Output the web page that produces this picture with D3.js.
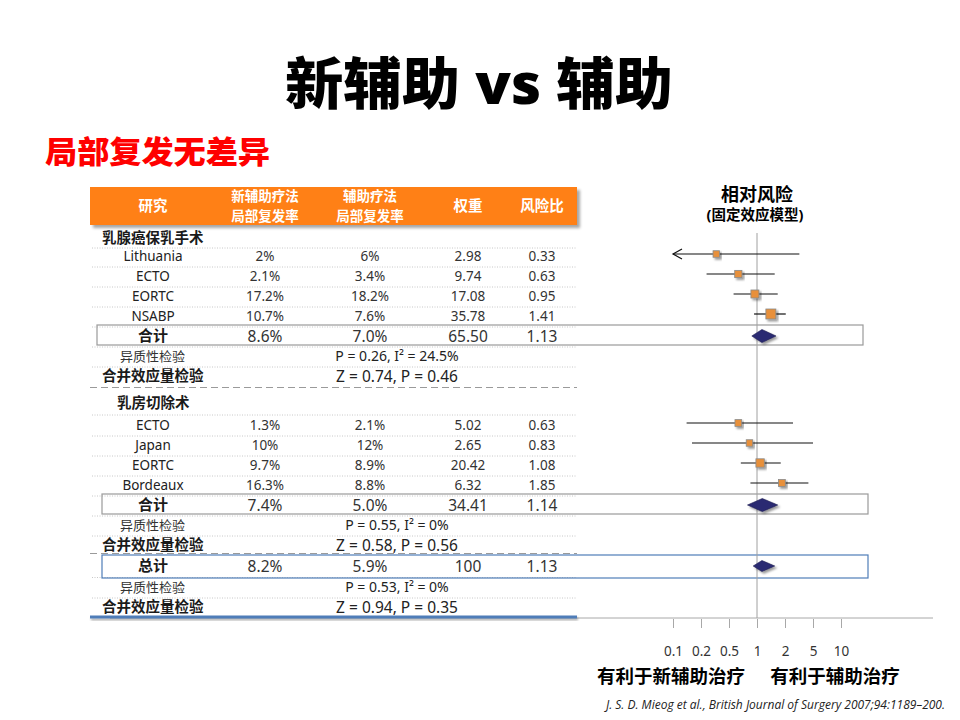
<!DOCTYPE html>
<html>
<head>
<meta charset="utf-8">
<script src="https://cdn.jsdelivr.net/npm/d3@7"></script>
<style>
  body { margin: 0; background: #fff; }
  svg { display: block; font-family: 'Noto Sans', 'Noto Sans CJK SC', sans-serif; }
</style>
</head>
<body>
<div id="chart"></div>
<script>
// ---- data ----
var subgroupNames = ['乳腺癌保乳手术', '乳房切除术']
var headerLines = [['研究'], ['新辅助疗法', '局部复发率'], ['辅助疗法', '局部复发率'], ['权重'], ['风险比']]

var studyGroup = [0, 0, 0, 0, 1, 1, 1, 1]
var studyNames = ['Lithuania', 'ECTO', 'EORTC', 'NSABP', 'ECTO', 'Japan', 'EORTC', 'Bordeaux']
var studyNeo = ['2%', '2.1%', '17.2%', '10.7%', '1.3%', '10%', '9.7%', '16.3%']
var studyAdj = ['6%', '3.4%', '18.2%', '7.6%', '2.1%', '12%', '8.9%', '8.8%']
var studyWeight = [2.98, 9.74, 17.08, 35.78, 5.02, 2.65, 20.42, 6.32]
var studyRR = [0.33, 0.63, 0.95, 1.41, 0.63, 0.83, 1.08, 1.85]
var studyLo = [0.05, 0.24, 0.56, 0.93, 0.14, 0.16, 0.67, 0.85]
var studyHi = [3.2, 1.55, 1.67, 2.05, 2.6, 5.0, 1.8, 4.3]

var summaryLabels = ['合计', '合计', '总计']
var summaryNeo = ['8.6%', '7.4%', '8.2%']
var summaryAdj = ['7.0%', '5.0%', '5.9%']
var summaryWeight = [65.50, 34.41, 100]
var summaryRR = [1.13, 1.14, 1.13]
var summaryLo = [0.88, 0.79, 0.91]
var summaryHi = [1.60, 1.67, 1.55]
var heterogeneity = ['P = 0.26, I² = 24.5%', 'P = 0.55, I² = 0%', 'P = 0.53, I² = 0%']
var overallEffect = ['Z = 0.74, P = 0.46', 'Z = 0.58, P = 0.56', 'Z = 0.94, P = 0.35']

var xTicks = [0.1, 0.2, 0.5, 1, 2, 5, 10]

// ---- layout ----
var W = 960
var H = 720
var colX = [153, 265, 370, 468, 542]
var tableLeft = 90
var tableRight = 577

var svg = d3.select('#chart').append('svg')
  .attr('width', W)
  .attr('height', H)

var defs = svg.append('defs')
function shadow (id, dx, dy, sd, op) {
  defs.append('filter').attr('id', id)
    .attr('x', '-30%').attr('y', '-60%').attr('width', '160%').attr('height', '220%')
    .append('feDropShadow')
    .attr('dx', dx).attr('dy', dy).attr('stdDeviation', sd)
    .attr('flood-color', '#000').attr('flood-opacity', op)
}
shadow('shHead', 3, 3, 1.5, 0.35)
shadow('shMark', 2, 2, 1.2, 0.4)
shadow('shLine', 1, 2, 1, 0.3)

// row slots -> y (text centre)
var y = d3.scaleLinear().domain([0, 1]).range([256, 276])

// relative risk scale: tick values equally spaced, log inside each segment
var xLog = d3.scaleLinear()
  .domain(xTicks.map(Math.log10))
  .range(xTicks.map(function (d, i) { return 673 + i * 28 }))
  .clamp(true)
function x (v) { return xLog(Math.log10(v)) }

// build the row list from the data
var rows = []
var studySlots = [0, 1, 2, 3, 8.45, 9.45, 10.45, 11.45]
var summarySlots = [4, 12.45, 15.5]
var groupSlots = [-0.9, 7.35]
subgroupNames.forEach(function (g, gi) {
  rows.push({type: 'group', slot: groupSlots[gi], label: g, indent: gi})
})
studyNames.forEach(function (n, i) {
  rows.push({type: 'study', slot: studySlots[i], i: i})
})
summaryLabels.forEach(function (s, i) {
  rows.push({type: 'summary', slot: summarySlots[i], i: i})
  rows.push({type: 'het', slot: summarySlots[i] + (i === 2 ? 1.05 : 1), i: i})
  rows.push({type: 'overall', slot: summarySlots[i] + (i === 2 ? 2.05 : 2), i: i})
})
rows.sort(function (a, b) { return a.slot - b.slot })

// ---- titles ----
svg.append('text')
  .attr('x', 479).attr('y', 104)
  .attr('text-anchor', 'middle')
  .attr('font-size', 56).attr('font-weight', 900)
  .attr('textLength', 388).attr('lengthAdjust', 'spacingAndGlyphs')
  .attr('fill', '#000')
  .text('新辅助 vs 辅助')

svg.append('text')
  .attr('x', 45).attr('y', 163)
  .attr('font-size', 31).attr('font-weight', 900)
  .attr('textLength', 225).attr('lengthAdjust', 'spacingAndGlyphs')
  .attr('fill', '#f00')
  .text('局部复发无差异')

// ---- table header ----
svg.append('rect')
  .attr('x', tableLeft).attr('y', 187)
  .attr('width', tableRight - tableLeft).attr('height', 38)
  .attr('fill', '#ff8012')
  .attr('filter', 'url(#shHead)')

headerLines.forEach(function (lines, ci) {
  lines.forEach(function (l, li) {
    svg.append('text')
      .attr('text-anchor', 'middle')
      .attr('fill', '#fff')
      .attr('font-size', lines.length === 1 ? 14.5 : 13.5).attr('font-weight', 700)
      .attr('x', colX[ci])
      .attr('y', lines.length === 1 ? 211 : 201 + li * 19.5)
      .text(l)
  })
})

// ---- separators ----
var sep = svg.append('g')
for (var k = 0; k < rows.length - 1; k++) {
  var a = rows[k]
  var b = rows[k + 1]
  var ym = (y(a.slot) + y(b.slot)) / 2
  if ((a.type === 'overall' && b.type !== 'het')) {
    // dashed break between sections
    sep.append('line')
      .attr('x1', tableLeft).attr('x2', tableRight)
      .attr('y1', ym - 2).attr('y2', ym - 2)
      .attr('stroke', '#9a9a9a').attr('stroke-width', 1.2)
      .attr('stroke-dasharray', '7,4')
  } else {
    sep.append('line')
      .attr('x1', tableLeft + 2).attr('x2', tableRight)
      .attr('y1', ym + 1).attr('y2', ym + 1)
      .attr('stroke', '#c8c8c8').attr('stroke-width', 1)
      .attr('stroke-dasharray', '1,1.5')
  }
}

// axis line (runs under the table's closing line)
svg.append('line')
  .attr('x1', tableLeft + 20).attr('x2', 933)
  .attr('y1', 618).attr('y2', 618)
  .attr('stroke', '#a8a8a8').attr('stroke-width', 1)

// bottom blue line closing the table
svg.append('rect')
  .attr('x', tableLeft).attr('y', 615.5)
  .attr('width', tableRight - tableLeft).attr('height', 3)
  .attr('fill', '#4f7db8')
  .attr('filter', 'url(#shLine)')

// ---- summary boxes ----
var boxLeft = [97, 102, 102]
var boxRight = [863, 868, 868]
summaryLabels.forEach(function (s, i) {
  var yc = y(summarySlots[i])
  svg.append('rect')
    .attr('x', boxLeft[i]).attr('y', yc - 11)
    .attr('width', boxRight[i] - boxLeft[i]).attr('height', i === 2 ? 23 : 20)
    .attr('fill', 'none')
    .attr('stroke', i === 2 ? '#4f7db8' : '#9a9a9a')
    .attr('stroke-width', 1.2)
})

// ---- table text ----
var txt = svg.append('g').attr('fill', '#1a1a1a')
function cell (xx, yy, s, opts) {
  opts = opts || {}
  return txt.append('text')
    .attr('x', xx).attr('y', yy)
    .attr('dy', '0.36em')
    .attr('text-anchor', opts.anchor || 'middle')
    .attr('font-size', opts.size || 13.5)
    .attr('font-weight', opts.bold ? 700 : 400)
    .attr('fill', opts.fill || null)
    .text(s)
}
var fmtW = function (w) { return Number.isInteger(w) ? String(w) : d3.format('.2f')(w) }
var fmtR = d3.format('.2f')

rows.forEach(function (r) {
  var yy = y(r.slot)
  if (r.type === 'group') {
    cell(r.indent ? 117 : 102, yy, r.label, {anchor: 'start', bold: true, size: 14.5})
  } else if (r.type === 'study') {
    var i = r.i
    cell(colX[0], yy, studyNames[i], {fill: '#222'})
    cell(colX[1], yy, studyNeo[i], {fill: '#333'})
    cell(colX[2], yy, studyAdj[i], {fill: '#333'})
    cell(colX[3], yy, fmtW(studyWeight[i]), {fill: '#333'})
    cell(colX[4], yy, fmtR(studyRR[i]), {fill: '#333'})
  } else if (r.type === 'summary') {
    var j = r.i
    cell(colX[0], yy, summaryLabels[j], {bold: true, size: 15})
    cell(colX[1], yy, summaryNeo[j], {size: 15.5, fill: '#333'})
    cell(colX[2], yy, summaryAdj[j], {size: 15.5, fill: '#333'})
    cell(colX[3], yy, fmtW(summaryWeight[j]), {size: 15.5, fill: '#333'})
    cell(colX[4], yy, fmtR(summaryRR[j]), {size: 15.5, fill: '#333'})
  } else if (r.type === 'het') {
    cell(120, yy, '异质性检验', {anchor: 'start', size: 13, fill: '#333'})
    cell(397, yy, heterogeneity[r.i], {size: 14, fill: '#222'})
  } else if (r.type === 'overall') {
    cell(102, yy, '合并效应量检验', {anchor: 'start', bold: true, size: 14.5})
    cell(397, yy, overallEffect[r.i], {size: 15.5, fill: '#222'})
  }
})

// ---- forest plot ----
svg.append('text')
  .attr('x', 757).attr('y', 201)
  .attr('text-anchor', 'middle')
  .attr('font-size', 18).attr('font-weight', 700)
  .text('相对风险')
svg.append('text')
  .attr('x', 755).attr('y', 220)
  .attr('text-anchor', 'middle')
  .attr('font-size', 14.5).attr('font-weight', 700)
  .text('(固定效应模型)')

// reference line at RR = 1
svg.append('line')
  .attr('x1', x(1)).attr('x2', x(1))
  .attr('y1', 233).attr('y2', 618)
  .attr('stroke', '#a0a0a0').attr('stroke-width', 1)

var axis = d3.axisBottom(xLog)
  .tickValues(xTicks.map(Math.log10))
  .tickFormat(function (d, i) { return String(xTicks[i]) })
  .tickSize(9)
  .tickPadding(18)
var gAxis = svg.append('g')
  .attr('transform', 'translate(0,619)')
  .call(axis)
gAxis.select('.domain').remove()
gAxis.selectAll('.tick line').attr('stroke', '#a8a8a8')
gAxis.selectAll('.tick text')
  .attr('font-size', 13.5)
  .attr('fill', '#333')
  .attr('font-family', "'Noto Sans', sans-serif")

var size = d3.scaleLinear().domain([2.65, 35.78]).range([6.5, 10])

var forest = svg.append('g')
studyNames.forEach(function (n, i) {
  var yy = y(studySlots[i]) - 2
  var lo = Math.max(studyLo[i], xTicks[0])
  forest.append('line')
    .attr('x1', x(lo)).attr('x2', x(studyHi[i]))
    .attr('y1', yy).attr('y2', yy)
    .attr('stroke', '#111').attr('stroke-width', 1.2)
  if (studyLo[i] < xTicks[0]) {
    var ax = x(xTicks[0])
    forest.append('path')
      .attr('d', 'M' + (ax + 9) + ',' + (yy - 5) + 'L' + ax + ',' + yy + 'L' + (ax + 9) + ',' + (yy + 5))
      .attr('fill', 'none').attr('stroke', '#111').attr('stroke-width', 1.2)
  }
  var s = size(studyWeight[i])
  forest.append('rect')
    .attr('x', x(studyRR[i]) - s / 2).attr('y', yy - s / 2)
    .attr('width', s).attr('height', s)
    .attr('fill', '#e8903a').attr('stroke', '#8a8a8a').attr('stroke-width', 0.8)
    .attr('filter', 'url(#shMark)')
})

summaryLabels.forEach(function (s, i) {
  var yy = y(summarySlots[i])
  var h = i === 2 ? 5.5 : 6.5
  forest.append('path')
    .attr('d', 'M' + x(summaryLo[i]) + ',' + yy +
      'L' + x(summaryRR[i]) + ',' + (yy - h) +
      'L' + x(summaryHi[i]) + ',' + yy +
      'L' + x(summaryRR[i]) + ',' + (yy + h) + 'Z')
    .attr('fill', '#2b2a72').attr('stroke', '#1c1c50').attr('stroke-width', 0.6)
    .attr('filter', 'url(#shMark)')
})

// favours labels and source
svg.append('text')
  .attr('x', 671).attr('y', 683)
  .attr('text-anchor', 'middle')
  .attr('font-size', 18.5).attr('font-weight', 700)
  .text('有利于新辅助治疗')
svg.append('text')
  .attr('x', 835).attr('y', 683)
  .attr('text-anchor', 'middle')
  .attr('font-size', 18.5).attr('font-weight', 700)
  .text('有利于辅助治疗')

svg.append('text')
  .attr('x', 945).attr('y', 709)
  .attr('text-anchor', 'end')
  .attr('font-size', 12).attr('font-style', 'italic')
  .attr('fill', '#222')
  .attr('font-family', "'Open Sans', 'Noto Sans', sans-serif")
  .text('J. S. D. Mieog et al., British Journal of Surgery 2007;94:1189–200.')
</script>
</body>
</html>
